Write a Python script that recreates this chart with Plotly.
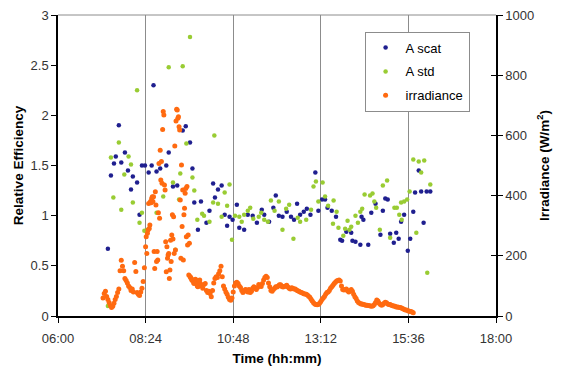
import plotly.graph_objects as go

# ---------------- data ----------------
tick_labels = ["06:00", "08:24", "10:48", "13:12", "15:36", "18:00"]

scat_time = ["07:22","07:27","07:32","07:35","07:40","07:44","07:50","07:55","08:00","08:03",
             "08:10","08:14","08:18","08:23","08:29","08:34","08:37","08:42","08:48","08:58",
             "09:02","09:09","09:16","09:25","09:30","09:37","09:41","09:44","09:50","09:55",
             "10:04","10:09","10:15","10:18","10:23","10:29","10:34","10:38","10:42","10:47",
             "10:54","10:58","11:06","11:12","11:20","11:27","11:35","11:39","11:47","11:54",
             "11:58","12:03","12:09","12:16","12:23","12:28","12:33","12:38","12:44","12:49",
             "12:55","13:03","13:08","13:14","13:19","13:23","13:30","13:37","13:44","13:47",
             "13:54","14:02","14:04","14:09","14:17","14:19","14:22","14:30","14:35","14:42",
             "14:50","14:54","14:58","15:02","15:06","15:12","15:16","15:20","15:24","15:29",
             "15:35","15:39","15:44","15:47","15:53","15:57","16:01","16:06","16:12"]
scat_eff = [0.67,1.40,1.52,1.59,1.90,1.53,1.63,1.45,1.26,1.39,
            1.33,1.01,1.50,1.50,1.43,1.50,2.30,1.44,1.47,1.50,
            1.63,1.29,1.30,1.85,1.89,1.73,1.47,1.13,0.86,1.14,
            0.93,1.05,1.32,1.18,1.26,1.30,1.01,0.90,0.99,0.96,
            1.11,0.88,0.86,1.01,1.00,0.93,1.06,1.01,0.94,1.08,
            1.20,1.00,0.99,1.04,0.99,0.96,1.12,1.01,1.04,1.07,
            1.01,1.43,1.05,1.16,1.16,1.08,1.05,0.99,0.76,0.75,
            0.84,0.83,0.75,0.74,0.71,0.99,0.96,0.71,1.03,1.12,
            0.81,1.05,1.17,1.16,0.82,0.73,0.83,0.77,0.94,1.01,
            0.65,0.77,1.04,1.23,1.45,1.24,0.93,1.24,1.24]

std_time = ["07:22","07:27","07:31","07:40","07:44","07:49","07:56","08:00","08:03","08:10",
            "08:14","08:18","08:22","08:27","08:42","08:53","09:02","09:09","09:13","09:19",
            "09:21","09:25","09:31","09:37","09:41","09:44","09:49","09:57","10:00","10:09",
            "10:15","10:17","10:23","10:29","10:34","10:38","10:42","10:46","10:51","10:58",
            "11:02","11:06","11:12","11:16","11:21","11:30","11:34","11:39","11:45","11:50",
            "11:56","12:03","12:09","12:15","12:20","12:27","12:34","12:38","12:48","12:56",
            "13:00","13:04","13:08","13:15","13:19","13:24","13:32","13:33","13:38","13:41",
            "13:49","13:52","13:56","13:59","14:02","14:09","14:13","14:17","14:20","14:24",
            "14:33","14:37","14:40","14:43","14:49","14:54","15:01","15:06","15:13","15:17",
            "15:21","15:24","15:25","15:29","15:34","15:38","15:44","15:49","15:53","15:57",
            "16:02","16:07","16:12"]
std_eff = [0.10,1.58,1.18,1.73,1.06,1.41,1.59,1.51,1.13,2.25,
           0.93,1.03,0.85,0.86,1.03,1.19,2.48,1.33,0.66,1.16,
           1.42,2.49,1.72,2.78,1.38,1.25,0.96,1.02,1.00,0.94,
           1.13,1.80,1.12,0.99,1.23,1.10,1.31,0.76,1.00,0.99,
           0.94,1.01,1.05,1.08,0.97,0.99,1.03,0.96,0.94,1.15,
           1.05,1.14,0.86,1.07,1.11,0.77,0.98,0.94,0.96,1.06,
           1.29,1.34,1.14,1.33,1.19,1.10,0.92,1.15,1.04,0.88,
           0.80,0.87,0.95,0.86,0.89,1.00,0.93,1.04,1.07,1.21,
           1.20,1.22,1.14,1.08,0.86,1.30,1.35,0.78,1.08,1.08,
           1.01,1.13,0.96,1.14,1.16,1.24,1.56,0.83,1.54,1.43,
           1.55,0.43,1.31]

# irradiance logged in three segments: (start time, sampling step in minutes, values W/m2)
irr_a_start, irr_a_step = "07:14", 2
irr_a = [60,75,82,65,55,45,35,28,32,42,55,65,78,90,150,185,165,150,125,118,
         110,100,95,85,90,80,178,148,78,72,68,80,92,115,160]
irr_b_start, irr_b_step = "08:24", 1
irr_b = [230,263,208,275,286,374,291,302,380,376,390,396,380,396,214,158,413,369,181,214,
         186,343,507,325,551,452,513,441,620,679,668,435,419,247,147,230,192,203,208,125,
         153,252,181,269,336,256,330,208,565,219,648,687,684,657,662,629,618,385,192,502,
         297,419,186,336,358,408,424,263,430,236,269,136,242,131,128,125,120,118,120,110,
         108,115,122,118,110,100,97,108,118,120,108]
irr_c_start, irr_c_step = "09:56", 2
irr_c = [100,92,105,108,85,78,82,75,64,85,110,125,130,128,140,150,165,130,100,90,
         80,72,62,55,52,60,80,100,110,112,108,100,95,85,78,82,88,86,80,88,
         78,82,92,97,92,88,95,105,100,98,108,120,128,132,128,110,97,85,82,88,
         92,97,96,100,104,104,98,96,98,100,102,96,92,90,94,92,90,90,86,84,
         82,80,78,76,74,73,72,70,66,62,56,50,44,40,38,37,38,42,48,55,
         60,65,72,78,80,85,92,97,102,108,112,116,118,120,116,100,88,86,88,90,
         84,80,84,88,82,72,64,58,50,45,42,40,40,38,37,36,36,35,34,33,
         32,34,38,45,53,50,42,38,36,38,42,46,44,40,38,38,36,34,33,32,
         30,30,29,28,27,25,23,21,20,19,17,16,15,13,11]


def hrs(s):
    h, m = s.split(":")
    return int(h) + int(m) / 60.0


irr_time, irr_val = [], []
for start, step, vals in [(irr_a_start, irr_a_step, irr_a),
                          (irr_b_start, irr_b_step, irr_b),
                          (irr_c_start, irr_c_step, irr_c)]:
    t0 = hrs(start)
    for i, v in enumerate(vals):
        irr_time.append(t0 + i * step / 60.0)
        irr_val.append(v)

# ---------------- figure ----------------
FONT = "Liberation Sans, Arial, sans-serif"
TICKFONT = dict(family=FONT, size=13, color="#333")
TITLEFONT = dict(family=FONT, size=13.5, color="black")

fig = go.Figure()
fig.add_trace(go.Scatter(x=[hrs(t) for t in scat_time], y=scat_eff, mode="markers", name="A scat",
                         legendgroup="a", marker=dict(color="#1f1f8f", size=4.5, symbol="circle")))
fig.add_trace(go.Scatter(x=[hrs(t) for t in std_time], y=std_eff, mode="markers", name="A std",
                         legendgroup="b", marker=dict(color="#99cc33", size=4.5, symbol="circle")))
fig.add_trace(go.Scatter(x=irr_time, y=irr_val, mode="markers", name="irradiance", yaxis="y2",
                         legendgroup="c", marker=dict(color="#ff6a10", size=5, symbol="circle")))
# empty helper trace so the inner tick marks of the right axis are drawn (cross ticks)
fig.add_trace(go.Scatter(x=[], y=[], yaxis="y3", showlegend=False, hoverinfo="skip"))

fig.update_layout(
    width=563, height=369,
    margin=dict(l=58, r=67, t=15, b=53),
    plot_bgcolor="white", paper_bgcolor="white",
    font=dict(family=FONT, size=12, color="#222"),
    showlegend=True,
    xaxis=dict(range=[6, 18], tickvals=[hrs(t) for t in tick_labels], ticktext=tick_labels,
               showgrid=True, gridcolor="#8c8c8c", gridwidth=1, zeroline=False,
               showline=True, linecolor="black", linewidth=1.5, automargin=False,
               ticks="outside", ticklen=5, tickcolor="black", tickfont=TICKFONT,
               ticklabelstandoff=5,
               title=dict(text="<b>Time (hh:mm)</b>", font=TITLEFONT, standoff=8)),
    yaxis=dict(range=[0, 3], dtick=0.5, showgrid=False, zeroline=False,
               showline=True, linecolor="black", linewidth=1.5, automargin=False,
               ticks="outside", ticklen=5, tickcolor="black", tickfont=TICKFONT,
               title=dict(text="<b>Relative Efficiency</b>", font=TITLEFONT, standoff=4)),
    yaxis2=dict(overlaying="y", side="right", range=[0, 1000], dtick=200, showgrid=False, zeroline=False,
                showline=True, linecolor="black", linewidth=1.5, automargin=False,
                ticks="outside", ticklen=5, tickcolor="black", tickfont=TICKFONT,
                title=dict(text="<b>Irradiance (W/m<sup>2</sup>)</b>", font=TITLEFONT, standoff=6)),
    yaxis3=dict(overlaying="y", side="right", range=[0, 1000], dtick=200, showgrid=False, zeroline=False,
                showline=False, showticklabels=False, ticks="inside", ticklen=5, tickcolor="black",
                automargin=False),
    legend=dict(x=0.70, y=0.945, xanchor="left", yanchor="top", bgcolor="white",
                bordercolor="#8c8c8c", borderwidth=1, font=dict(family=FONT, size=13, color="black"),
                tracegroupgap=4, itemsizing="trace"),
    shapes=[dict(type="line", xref="paper", yref="paper", x0=0, x1=1, y0=1, y1=1,
                 line=dict(color="#8c8c8c", width=1))],
)

fig.write_html("out.html")
